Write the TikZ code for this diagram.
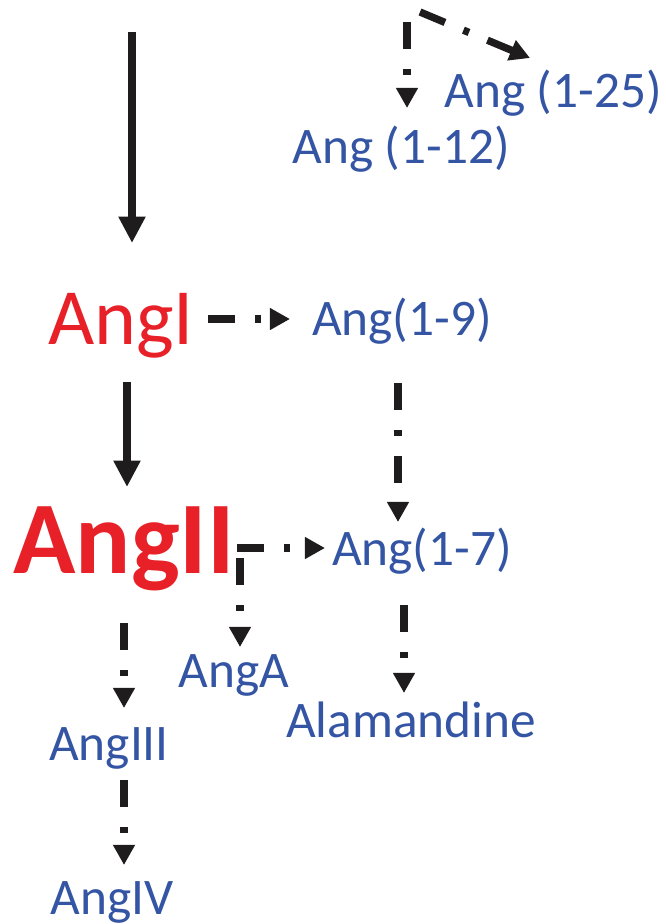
\documentclass[tikz,border=0pt]{standalone}
\usepackage{fontspec}
\setmainfont{Carlito}
\usepackage{tikz}
\usetikzlibrary{positioning, arrows.meta, calc}

\definecolor{angred}{RGB}{232,32,40}
\definecolor{angblue}{RGB}{52,84,164}
\definecolor{arrowblack}{RGB}{30,28,29}

\begin{document}
\begin{tikzpicture}[
		x=0.02cm, y=-0.02cm,
		% --- ESTILOS ---
		redlabel/.style={
			inner sep=0pt, anchor=base, text=angred,
			font=\fontsize{45.4pt}{50pt}\selectfont
		},
		bigredlabel/.style={
			inner sep=0pt, anchor=base, text=angred,
			font=\fontsize{58.6pt}{64pt}\selectfont\bfseries
		},
		bluelabel/.style={
			inner sep=0pt, anchor=base, text=angblue,
			font=\fontsize{29.2pt}{32pt}\selectfont
		},
		mainline/.style={
			draw=arrowblack, line width=4.5pt,
			-{Triangle[length=15pt, width=14.5pt]}
		},
		dashline/.style={
			draw=arrowblack, line width=4.2pt,
			dash pattern=on 15.4pt off 11.4pt on 3.4pt off 11.4pt,
			-{Triangle[length=11.4pt, width=11.8pt]}
		}
		]
		
		\useasboundingbox (0,0) rectangle (666,924);
		
		% --- 1. Cadena principal (rojo) ---
		\node [redlabel] (angI) at (121,344) {AngI};
		\node [bigredlabel] (angII) at (124,573) {AngII};
		
		% --- 2. Productos (azul) ---
		\node [bluelabel] (a112) at (401,163) {Ang (1-12)};
		\node [bluelabel] (a125) at (553,107) {Ang (1-25)};
		\node [bluelabel] (a19) at (402,335) {Ang(1-9)};
		\node [bluelabel] (a17) at (422,565) {Ang(1-7)};
		\node [bluelabel] (angA) at (234,687) {AngA};
		\node [bluelabel] (alam) at (411,737) {Alamandine};
		\node [bluelabel] (angIII) at (109,760) {AngIII};
		\node [bluelabel] (angIV) at (112,914) {AngIV};
		
		% --- 3. Flechas continuas ---
		\coordinate (entrada) at (132,32);
		\draw [mainline] (entrada) -- ($(angI.base)+(11,-101)$);
		\draw [mainline] ($(angI.base)+(6,38)$) -- ($(angII.base)+(3,-86)$);
		
		% --- 4. Flechas punteadas ---
		% arriba: dos ramas desde el mismo origen
		\coordinate (origen) at (407,12);
		\draw [dashline] ($(origen)+(0,10)$) -- ($(a112.base)+(6,-55)$);
		\draw [dashline] ($(origen)+(13,0)$) -- ($(a125.base)+(-23,-49)$);
		
		% AngI -> Ang(1-9) -> Ang(1-7) -> Alamandine
		\draw [dashline] ($(angI.base)+(87,-25)$) -- ($(a19.base)+(-112,-16)$);
		\draw [dashline] ($(a19.base)+(-4,48)$) -- ($(a17.base)+(-24,-43)$);
		\draw [dashline] ($(a17.base)+(-18,40)$) -- ($(alam.base)+(-7,-44)$);
		
		% AngII -> Ang(1-7) y AngA
		\draw [dashline] ($(angII.base)+(113,-25)$) -- ($(a17.base)+(-97,-17)$);
		\draw [dashline] ($(angII.base)+(116,-15)$) -- ($(angA.base)+(6,-40)$);
		
		% AngII -> AngIII -> AngIV
		\draw [dashline] ($(angII.base)+(0,50)$) -- ($(angIII.base)+(15,-52)$);
		\draw [dashline] ($(angIII.base)+(15,20)$) -- ($(angIV.base)+(12,-49)$);
		
	\end{tikzpicture}
\end{document}
